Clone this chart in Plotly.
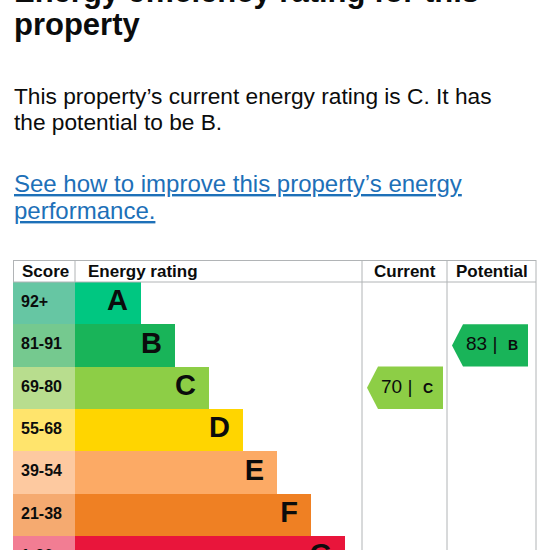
import plotly.graph_objects as go

# ---------------- data ----------------
bands = ["A", "B", "C", "D", "E", "F", "G"]
score_ranges = ["92+", "81-91", "69-80", "55-68", "39-54", "21-38", "1-20"]
band_colors = ["#00c781", "#19b459", "#8dce46", "#ffd500", "#fcaa65", "#ef8023", "#e9153b"]
score_colors = ["#66c6a3", "#75c98f", "#b8dd8e", "#ffe46c", "#fdc9a0", "#f5aa70", "#f27d93"]
bar_lengths = [66, 100, 134, 168, 202, 236, 270]
header_labels = ["Score", "Energy rating", "Current", "Potential"]
current_score, current_band = 70, "C"
potential_score, potential_band = 83, "B"

title_lines = ["Energy efficiency rating for this", "property"]
para_lines = ["This property\u2019s current energy rating is C. It has", "the potential to be B."]
link_lines = ["See how to improve this property\u2019s energy", "performance."]

# ---------------- layout helpers ----------------
W = H = 550
FONT = "Arial, 'Liberation Sans', sans-serif"
INK = "#0b0c0c"
LINE = "#b1b4b6"
ROW_H = 42.3
ROW0_TOP = 282.0


def py(p):
    return 1 - p / H


rows = list(range(len(bands)))
y_top = (0 - (ROW0_TOP + ROW_H / 2)) / ROW_H
y_bot = (H - (ROW0_TOP + ROW_H / 2)) / ROW_H

fig = go.Figure()

# score cells
fig.add_trace(go.Bar(y=rows, x=[62] * len(rows), base=13, orientation="h", width=1,
                     marker=dict(color=score_colors, line=dict(width=0)),
                     hoverinfo="skip", showlegend=False))
# rating bars
fig.add_trace(go.Bar(y=rows, x=bar_lengths, base=75, orientation="h", width=1,
                     marker=dict(color=band_colors, line=dict(width=0)),
                     hoverinfo="skip", showlegend=False))
# band letters
fig.add_trace(go.Scatter(x=[75 + L - 13 for L in bar_lengths], y=rows, mode="text",
                         text=["<b>%s</b>" % b for b in bands], textposition="middle left",
                         textfont=dict(family=FONT, size=29, color=INK),
                         hoverinfo="skip", showlegend=False))
# score labels
fig.add_trace(go.Scatter(x=[21] * len(rows), y=rows, mode="text",
                         text=["<b>%s</b>" % s for s in score_ranges], textposition="middle right",
                         textfont=dict(family=FONT, size=16, color=INK),
                         hoverinfo="skip", showlegend=False))


def arrow(score, band, x_tip, x_right, text_x):
    r = bands.index(band)
    color = band_colors[r]
    xs = [x_tip, x_tip + 11, x_right, x_right, x_tip + 11, x_tip]
    ys = [r, r - 0.5, r - 0.5, r + 0.5, r + 0.5, r]
    fig.add_trace(go.Scatter(x=xs, y=ys, mode="lines", fill="toself", fillcolor=color,
                             line=dict(width=0, color=color), hoverinfo="skip", showlegend=False))
    fig.add_trace(go.Scatter(x=[text_x], y=[r], mode="text",
                             text=["%d |\u00a0\u00a0<b><span style='font-size:14px'>%s</span></b>" % (score, band)],
                             textposition="middle center",
                             textfont=dict(family=FONT, size=19, color=INK),
                             hoverinfo="skip", showlegend=False))


arrow(current_score, current_band, 367, 443, 407)
arrow(potential_score, potential_band, 452, 528, 492)

# table lines
shapes = []
def hline(y, x0, x1):
    shapes.append(dict(type="line", xref="x", yref="paper", x0=x0, x1=x1, y0=py(y), y1=py(y),
                       line=dict(color=LINE, width=1)))
def vline(x, y0, y1):
    shapes.append(dict(type="line", xref="x", yref="paper", x0=x, x1=x, y0=py(y0), y1=py(y1),
                       line=dict(color=LINE, width=1)))

hline(260.5, 13, 536)
hline(282, 13, 536)
vline(13.5, 260, 282)
vline(75, 260, 282)
vline(362, 260, 550)
vline(447, 260, 550)
vline(536, 260, 550)

annotations = []
def txt(s, x, y, size, bold=False, color=INK, xanchor="left"):
    annotations.append(dict(text=("<b>%s</b>" % s) if bold else s, x=x / W, y=py(y),
                            xref="paper", yref="paper", xanchor=xanchor, yanchor="middle",
                            showarrow=False, font=dict(family=FONT, size=size, color=color)))

# header
txt(header_labels[0], 20, 271, 17, bold=True)
txt(header_labels[1], 86, 271, 17, bold=True)
txt(header_labels[2], 404.5, 271, 17, bold=True, xanchor="center")
txt(header_labels[3], 491.5, 271, 17, bold=True, xanchor="center")

# title / paragraph / link
txt(title_lines[0], 12, -9, 31, bold=True)
txt(title_lines[1], 12, 25, 31, bold=True)
txt(para_lines[0], 12, 96, 22.7)
txt(para_lines[1], 12, 122, 22.7)
txt("<u>%s</u>" % link_lines[0], 12, 183, 24, color="#1d70b8")
txt("<u>%s</u>" % link_lines[1], 12, 210, 24, color="#1d70b8")

fig.update_layout(
    width=W, height=H, margin=dict(l=0, r=0, t=0, b=0),
    paper_bgcolor="white", plot_bgcolor="white",
    barmode="overlay", bargap=0,
    xaxis=dict(range=[0, W], visible=False, fixedrange=True),
    yaxis=dict(range=[y_bot, y_top], visible=False, fixedrange=True),
    shapes=shapes, annotations=annotations, showlegend=False,
)

fig.write_html("out.html", config={"displayModeBar": False},
               post_script="document.body.style.margin='0';document.body.style.overflow='hidden';")
